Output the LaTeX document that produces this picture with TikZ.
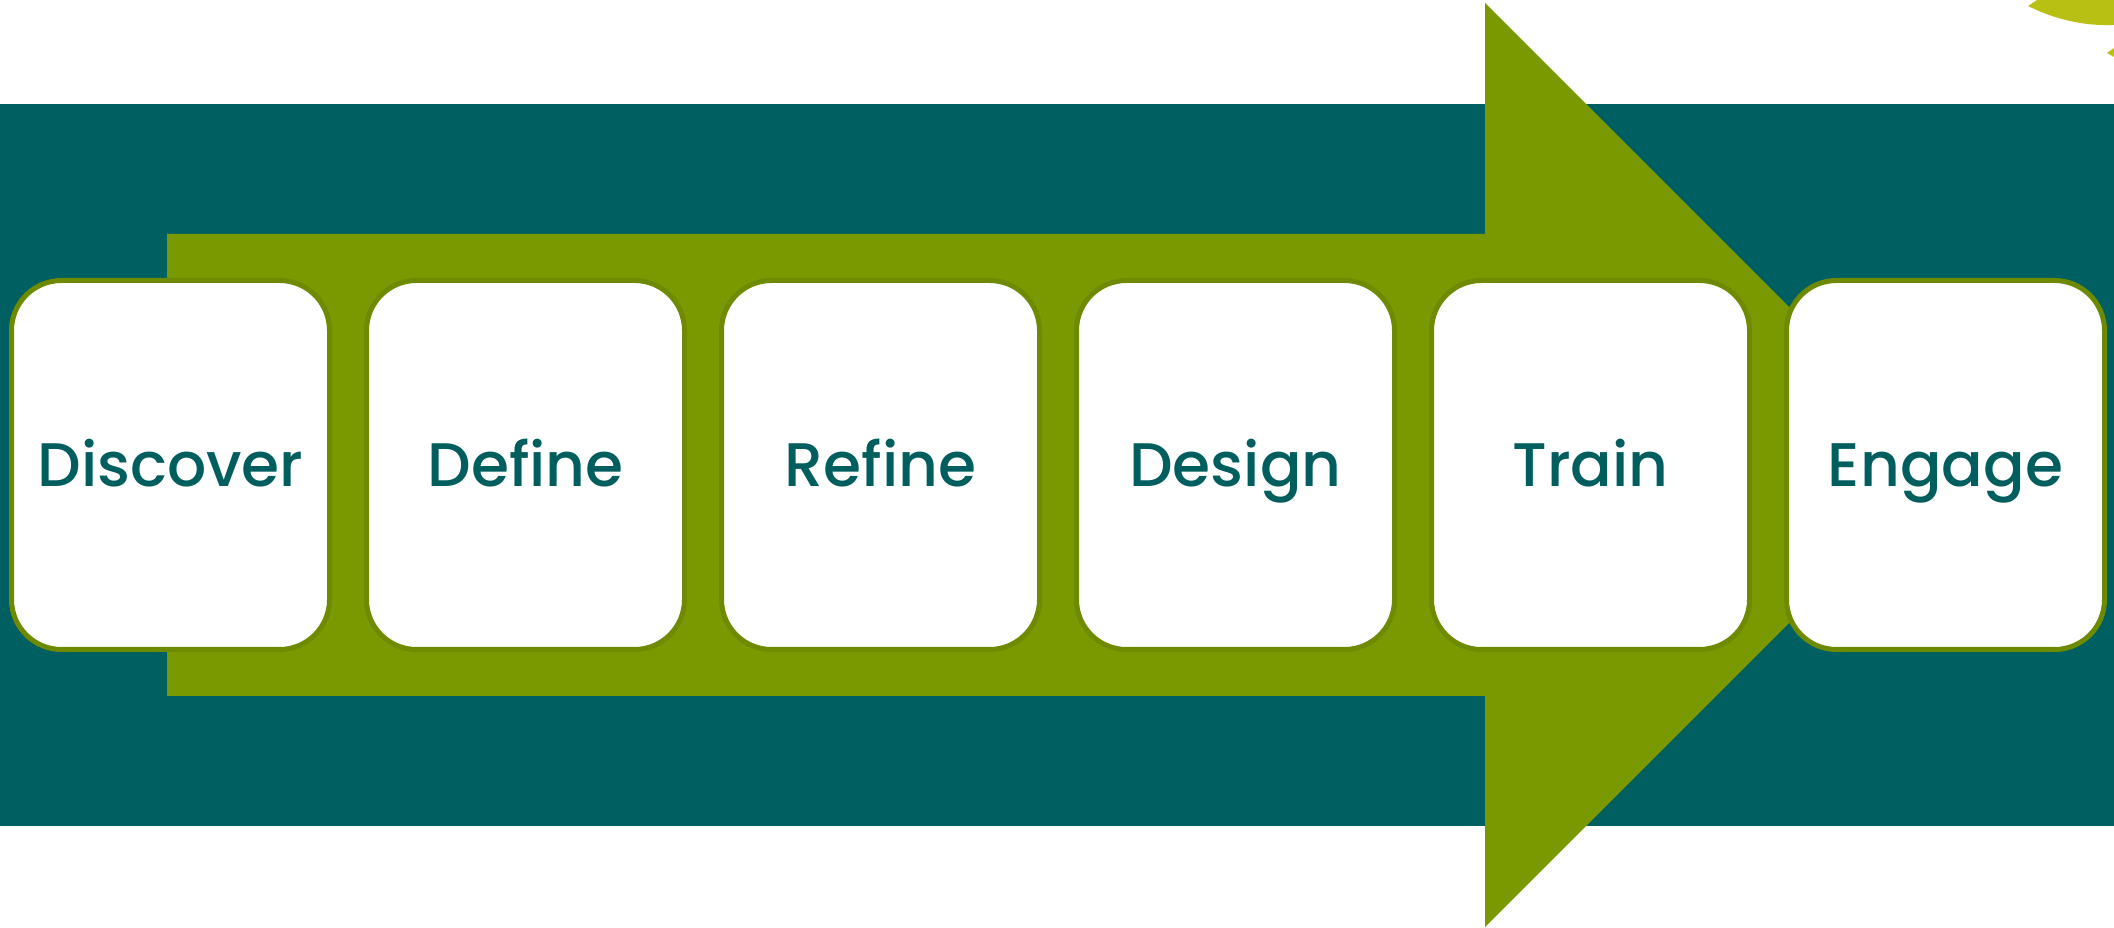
\documentclass[tikz,border=0pt]{standalone}
\usepackage{fontspec}
\setmainfont{Poppins}[UprightFont=* Medium, Ligatures=NoCommon]
\usetikzlibrary{positioning}

\definecolor{bandteal}{RGB}{0,95,96}
\definecolor{arrowgreen}{RGB}{122,153,0}
\definecolor{boxline}{RGB}{110,138,0}
\definecolor{labelteal}{RGB}{0,94,94}
\definecolor{leafgreen}{RGB}{185,192,20}

\begin{document}
\begin{tikzpicture}[
    phase/.style={draw=boxline, line width=0.05cm, fill=white,
      rounded corners=0.5cm, minimum width=3.18cm, minimum height=3.69cm,
      inner sep=0pt, outer sep=0pt, text=labelteal,
      text height=12pt, text depth=0pt,
      font=\fontsize{17.5}{20}\selectfont}]
  \useasboundingbox (0,0) rectangle (21.14,9.27);
  % band behind everything
  \fill[bandteal] (0,1.01) rectangle (21.14,8.23);
  % big arrow
  \fill[arrowgreen] (1.67,2.31) -- (14.85,2.31) -- (14.85,0) -- (19.47,4.62)
    -- (14.85,9.24) -- (14.85,6.93) -- (1.67,6.93) -- cycle;
  % leaf bits, top right
  \fill[leafgreen] (20.28,9.21) .. controls (20.6,9.05) and (20.9,9.01) .. (21.14,9.02)
    -- (21.14,9.27) -- (20.37,9.27) -- cycle;
  \fill[leafgreen] (21.07,8.74) -- (21.14,8.79) -- (21.14,8.70) -- cycle;
  % the six phases
  \node[phase] (discover) at (1.705,4.62) {Discover};
  \node[phase, right=0.37cm of discover] (define) {Define};
  \node[phase, right=0.37cm of define] (refine) {Refine};
  \node[phase, right=0.37cm of refine] (design) {Design};
  \node[phase, right=0.37cm of design] (train) {Train};
  \node[phase, right=0.37cm of train] (engage) {Engage};
\end{tikzpicture}
\end{document}
